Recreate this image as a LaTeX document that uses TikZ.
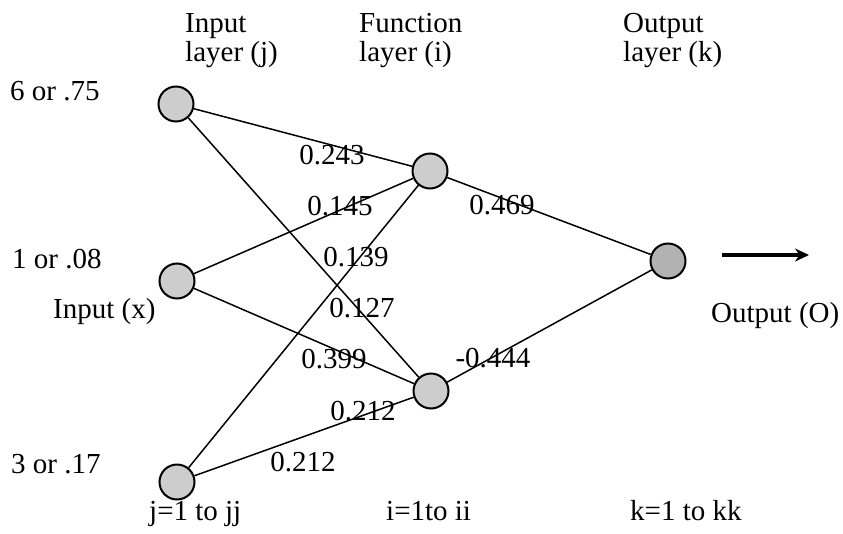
\documentclass[tikz,border=0pt]{standalone}
\usepackage{fontspec}
\setmainfont{Liberation Serif}
\usetikzlibrary{arrows.meta}
\definecolor{nodegray}{RGB}{205,205,205}
\definecolor{outgray}{RGB}{178,178,178}
\begin{document}
\begin{tikzpicture}[x=1pt,y=-1pt,
  neuron/.style={circle,draw=black,line width=2pt,fill=nodegray,minimum size=35pt,inner sep=0pt},
  outneuron/.style={neuron,fill=outgray},
  link/.style={draw=black,line width=1.5pt},
  wlabel/.style={inner sep=0pt,anchor=center},
  txt/.style={inner sep=0pt,anchor=base west},
  every node/.style={font=\fontsize{29}{31}\selectfont}]
\useasboundingbox (0,0) rectangle (843,533);
% neurons
\node[neuron] (j1) at (176,104) {};
\node[neuron] (j2) at (177,281) {};
\node[neuron] (j3) at (177,482) {};
\node[neuron] (i1) at (430,171) {};
\node[neuron] (i2) at (431,391) {};
\node[outneuron] (k1) at (668,261) {};
% connections
\draw[link] (j1) -- (i1);
\draw[link] (j1) -- (i2);
\draw[link] (j2) -- (i1);
\draw[link] (j2) -- (i2);
\draw[link] (j3) -- (i1);
\draw[link] (j3) -- (i2);
\draw[link] (i1) -- (k1);
\draw[link] (i2) -- (k1);
% output arrow
\coordinate (oa) at (722,255);
\coordinate (ob) at (809,255);
\draw[line width=3.3pt,-{Stealth[length=14pt,width=13pt]}] (oa) -- (ob);
% weights
\node[wlabel] (w1) at (332,155) {0.243};
\node[wlabel] (w2) at (340,206) {0.145};
\node[wlabel] (w3) at (356,257) {0.139};
\node[wlabel] (w4) at (362,308) {0.127};
\node[wlabel] (w5) at (334,359) {0.399};
\node[wlabel] (w6) at (363,411) {0.212};
\node[wlabel] (w7) at (303,462) {0.212};
\node[wlabel] (w8) at (502,205) {0.469};
\node[wlabel] (w9) at (493,358) {-0.444};
% headings
\node[txt] (h1a) at (185,32) {Input};
\node[txt] (h1b) at (185,61) {layer (j)};
\node[txt] (h2a) at (359,32) {Function};
\node[txt] (h2b) at (359,61) {layer (i)};
\node[txt] (h3a) at (623,32) {Output};
\node[txt] (h3b) at (623,61) {layer (k)};
% inputs
\node[txt] (x1) at (10,100) {6 or .75};
\node[txt] (x2) at (12,268) {1 or .08};
\node[txt] (xin) at (53,318) {Input (x)};
\node[txt] (x3) at (11,473) {3 or .17};
\node[txt] (out) at (711,322) {Output (O)};
% bottom
\node[txt] (bj) at (149,520) {j=1 to jj};
\node[txt] (bi) at (386,520) {i=1to ii};
\node[txt] (bk) at (630,520) {k=1 to kk};
\end{tikzpicture}
\end{document}
